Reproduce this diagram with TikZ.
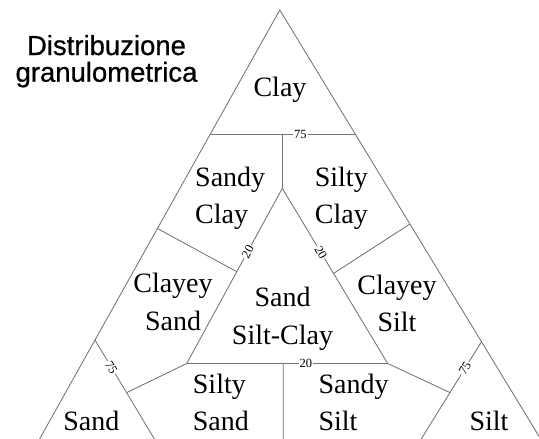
\documentclass[tikz,border=0pt]{standalone}
\usepackage{fontspec}
\setmainfont{Liberation Serif}
\newfontfamily\titlefont[FakeBold=0.7]{Liberation Sans}
\usetikzlibrary{calc}
\begin{document}
\begin{tikzpicture}[x=1pt,y=-1pt,
  edge/.style={draw=black!55, line width=0.85pt},
  region/.style={font=\fontsize{28}{37.3}\selectfont, inner sep=0pt, align=center},
  regionleft/.style={region, align=left},
  tick/.style={font=\fontsize{12.5}{13}\selectfont, fill=white, inner sep=1pt, sloped},
  title/.style={font=\titlefont\fontsize{27.5}{26.7}\selectfont, inner sep=0pt, align=center}]
\useasboundingbox (0,0) rectangle (539,439);
\clip (0,0) rectangle (539,439);

% outer triangle (its base lies below the visible area)
\coordinate (A)   at (279.8,10);
\coordinate (LB)  at (27.8,460);
\coordinate (RB)  at (553.4,460);
\coordinate (L75) at (210.1,134.5);
\coordinate (R75) at (355.5,134.5);
\coordinate (L20) at (157.4,228.5);
\coordinate (R20) at (409.9,224);
\coordinate (L75b) at (95,340);
\coordinate (R75b) at (481.5,341.7);
\coordinate (Sb)  at (167,460);
\coordinate (Tb)  at (408.2,460);

% inner triangle
\coordinate (T)  at (282.3,188.3);
\coordinate (BL) at (186.7,363.5);
\coordinate (BR) at (387.7,363.5);
\coordinate (Mtop) at (282.3,134.5);
\coordinate (IL20) at ($(BL)!0.524!(T)$);
\coordinate (IR20) at ($(T)!0.486!(BR)$);
\coordinate (SL) at ($(L75b)!0.439!(Sb)$);
\coordinate (SR) at ($(Tb)!0.57!(R75b)$);
\coordinate (Mbot) at ($(BL)!0.48!(BR)$);
\coordinate (Mend) at (283.3,460);

\draw[edge] (LB) -- (A) -- (RB);
\draw[edge] (L75) -- node[tick, pos=0.621] {75} (R75);
\draw[edge] (Mtop) -- (T);
\draw[edge] (BL) -- node[tick, pos=0.638] {20} (T);
\draw[edge] (T) -- node[tick, pos=0.365] {20} (BR);
\draw[edge] (BL) -- node[tick, pos=0.593] {20} (BR);
\draw[edge] (L20) -- (IL20);
\draw[edge] (IR20) -- (R20);
\draw[edge] (L75b) -- node[tick, pos=0.228] {75} (Sb);
\draw[edge] (Tb) -- node[tick, pos=0.775] {75} (R75b);
\draw[edge] (BL) -- (SL);
\draw[edge] (BR) -- (SR);
\draw[edge] (Mbot) -- (Mend);

% region names (base anchor sits on the last line)
\node[region, anchor=base] (clay) at (280,96.7) {Clay};
\node[regionleft, anchor=base west] (sandyclay) at (195,223.3) {Sandy\\Clay};
\node[region, anchor=base] (siltyclay) at (341.3,223.3) {Silty\\Clay};
\node[region, anchor=base] (clayeysand) at (173,330) {Clayey\\Sand};
\node[region, anchor=base] (sandsiltclay) at (282.5,344) {Sand\\Silt-Clay};
\node[region, anchor=base] (clayeysilt) at (397,331.7) {Clayey\\Silt};
\node[regionleft, anchor=base west] (siltysand) at (192.7,430.7) {Silty\\Sand};
\node[regionleft, anchor=base west] (sandysilt) at (318.3,430.7) {Sandy\\Silt};
\node[region, anchor=base] (sand) at (91.3,430.7) {Sand};
\node[region, anchor=base] (silt) at (489,430.7) {Silt};

% heading
\node[title, anchor=base] (heading) at (106.5,81.7) {Distribuzione\\granulometrica};
\end{tikzpicture}
\end{document}
